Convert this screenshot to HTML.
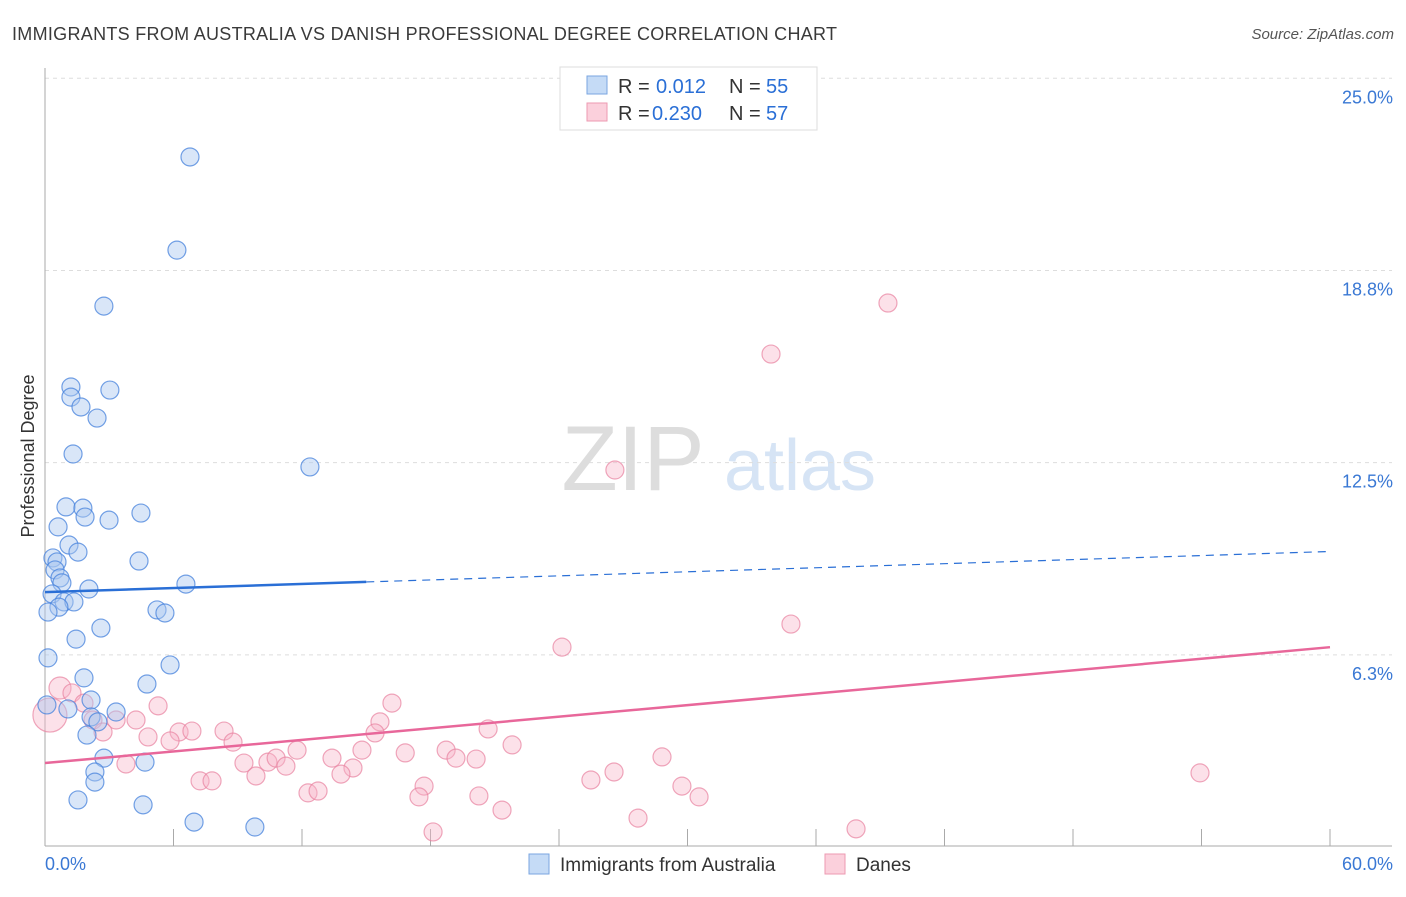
<!DOCTYPE html>
<html><head><meta charset="utf-8"><style>
body{margin:0;background:#fff;font-family:"Liberation Sans",sans-serif;}
svg text{font-family:"Liberation Sans",sans-serif;}
</style></head><body>
<svg id="chart" width="1406" height="892">
<text x="12" y="40" font-size="18" fill="#3a3a3a" textLength="825">IMMIGRANTS FROM AUSTRALIA VS DANISH PROFESSIONAL DEGREE CORRELATION CHART</text>
<text x="1394" y="39" font-size="15" fill="#555" font-style="italic" text-anchor="end">Source: ZipAtlas.com</text>
<text transform="translate(34,456) rotate(-90)" font-size="18" fill="#333" text-anchor="middle">Professional Degree</text>
<g><text x="633" y="490" font-size="92" fill="#ddd" font-family="Liberation Serif" text-anchor="middle">ZIP</text><text x="800" y="490" font-size="72" fill="#d6e4f5" text-anchor="middle">atlas</text></g>
<g id="grid"></g><g id="marks"></g>
<g>
<rect x="560" y="67" width="257" height="63" fill="#fff" stroke="#ddd"/>
<rect x="587" y="76" width="20" height="18" fill="#c5dbf6" stroke="#7aa6e0"/>
<rect x="587" y="103" width="20" height="18" fill="#fbd0dc" stroke="#ec9ab2"/>
<text x="618" y="93" font-size="20" fill="#333">R =</text><text x="656" y="93" font-size="20" fill="#2a6fd6">0.012</text>
<text x="729" y="93" font-size="20" fill="#333">N =</text><text x="766" y="93" font-size="20" fill="#2a6fd6">55</text>
<text x="618" y="120" font-size="20" fill="#333">R =</text><text x="652" y="120" font-size="20" fill="#2a6fd6">0.230</text>
<text x="729" y="120" font-size="20" fill="#333">N =</text><text x="766" y="120" font-size="20" fill="#2a6fd6">57</text>
</g>
<g>
<rect x="529" y="854" width="20" height="20" fill="#c5dbf6" stroke="#7aa6e0"/>
<text x="560" y="871" font-size="19" fill="#333">Immigrants from Australia</text>
<rect x="825" y="854" width="20" height="20" fill="#fbd0dc" stroke="#ec9ab2"/>
<text x="856" y="871" font-size="19" fill="#333">Danes</text>
</g>
</svg>
<script>
const yTicks=[6.25,12.5,18.75,25];
const yTickLabels=["6.3%","12.5%","18.8%","25.0%"];
const xTicks=[0,6,12,18,24,30,36,42,48,54,60];
const blueX=[6.77,6.16,2.75,1.21,3.03,1.21,1.68,2.43,1.31,12.37,0.98,1.77,4.48,1.87,2.99,0.61,1.12,1.54,0.37,0.56,4.39,0.47,0.70,0.79,2.05,6.58,0.33,0.89,1.35,0.65,0.14,5.23,5.60,2.61,1.45,0.14,5.84,1.82,4.76,2.15,0.09,1.07,3.32,2.15,2.47,1.96,4.67,2.75,2.33,2.33,1.54,4.58,6.96,9.80];
const blueY=[22.44,19.41,17.59,14.96,14.86,14.63,14.31,13.95,12.78,12.36,11.06,11.02,10.86,10.73,10.63,10.41,9.82,9.59,9.40,9.27,9.30,9.01,8.75,8.59,8.39,8.55,8.23,7.97,7.97,7.80,7.64,7.71,7.61,7.12,6.76,6.15,5.92,5.50,5.30,4.78,4.62,4.49,4.39,4.23,4.07,3.64,2.76,2.89,2.44,2.11,1.53,1.37,0.81,0.65];
const pinkX=[39.36,33.90,26.61,34.83,24.14,53.93,0.70,0.23,1.26,1.82,5.28,16.20,15.64,2.24,3.32,4.25,2.71,6.26,6.86,8.36,4.81,5.84,8.78,15.41,20.69,11.77,14.80,18.73,21.81,16.82,13.40,19.19,20.13,28.81,3.78,9.29,10.41,10.79,11.25,14.38,9.85,13.82,26.57,7.24,7.80,25.49,29.74,17.70,12.28,12.75,17.46,20.26,30.54,21.34,27.69,18.12,37.87];
const pinkY=[17.69,16.03,12.26,7.25,6.50,2.41,5.17,4.29,5.01,4.68,4.59,4.68,4.07,4.13,4.13,4.13,3.74,3.74,3.77,3.77,3.58,3.45,3.41,3.71,3.84,3.15,3.15,3.15,3.32,3.06,2.89,2.89,2.86,2.93,2.70,2.73,2.76,2.89,2.63,2.57,2.31,2.37,2.44,2.15,2.15,2.18,1.98,1.98,1.76,1.82,1.63,1.66,1.63,1.20,0.94,0.49,0.59];
const pinkR=[9,9,9,9,9,9,11,17,9,9,9,9,9,9,9,9,9,9,9,9,9,9,9,9,9,9,9,9,9,9,9,9,9,9,9,9,9,9,9,9,9,9,9,9,9,9,9,9,9,9,9,9,9,9,9,9,9];
const blueFit=[8.29,0.022];
const blueSolidEnd=15;
const pinkFit=[2.73,0.0628];

const X0=45,X1=1330,Y0=847,YPX=30.75;
const sx=v=>X0+(v/60)*(X1-X0);
const sy=v=>Y0-v*YPX;
const NS="http://www.w3.org/2000/svg";
function mk(tag,attrs,parent){const e=document.createElementNS(NS,tag);for(const k in attrs)e.setAttribute(k,attrs[k]);parent.appendChild(e);return e;}
const grid=document.getElementById('grid'),marks=document.getElementById('marks');
yTicks.forEach((t,i)=>{
 const l=mk('line',{x1:X0,x2:1392,y1:sy(t),y2:sy(t),stroke:'#ddd','stroke-dasharray':'4,4'},grid);
 
 
 const tx=mk('text',{x:1393,y:sy(t)+25,'font-size':18,fill:'#3a78d4','text-anchor':'end'},grid);
 tx.textContent=yTickLabels[i];
 
 
});
const ax=mk('line',{x1:X0,x2:X0,y1:68,y2:846,stroke:'#aaa'},grid);


const bx=mk('line',{x1:X0,x2:1392,y1:846,y2:846,stroke:'#aaa'},grid);


xTicks.forEach(t=>{
 const l=mk('line',{x1:sx(t),x2:sx(t),y1:829,y2:846,stroke:'#aaa'},grid);
 
 
});
const xl0=mk('text',{x:45,y:870,'font-size':18,fill:'#3a78d4'},grid);xl0.textContent='0.0%';


const xl1=mk('text',{x:1393,y:870,'font-size':18,fill:'#3a78d4','text-anchor':'end'},grid);xl1.textContent='60.0%';



pinkX.forEach((v,i)=>{
 const c=mk('circle',{cx:sx(v),cy:sy(pinkY[i]),r:pinkR[i],fill:'rgba(248,180,200,0.4)',stroke:'rgba(232,130,160,0.7)','stroke-width':1.2},marks);
 
 
});
blueX.forEach((v,i)=>{
 const c=mk('circle',{cx:sx(v),cy:sy(blueY[i]),r:9,fill:'rgba(170,200,240,0.45)',stroke:'rgba(70,130,220,0.75)','stroke-width':1.2},marks);
 
 
});
const bf=x=>blueFit[0]+blueFit[1]*x, pf=x=>pinkFit[0]+pinkFit[1]*x;
const b1=mk('line',{x1:sx(0),y1:sy(bf(0)),x2:sx(blueSolidEnd),y2:sy(bf(blueSolidEnd)),stroke:'#2a6fd6','stroke-width':2.5},marks);


const b2=mk('line',{x1:sx(blueSolidEnd),y1:sy(bf(blueSolidEnd)),x2:sx(60),y2:sy(bf(60)),stroke:'#2a6fd6','stroke-width':1.2,'stroke-dasharray':'8,6'},marks);


const p1=mk('line',{x1:sx(0),y1:sy(pf(0)),x2:sx(60),y2:sy(pf(60)),stroke:'#e8679a','stroke-width':2.5},marks);


</script>
</body></html>
